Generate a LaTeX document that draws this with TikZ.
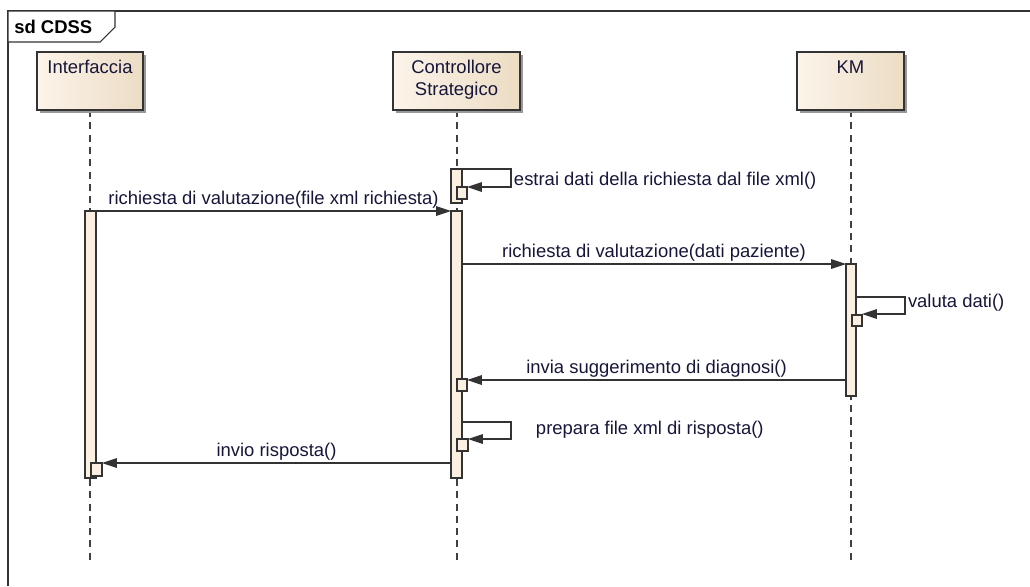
\documentclass[tikz,border=0pt]{standalone}
\usepackage{fontspec}
\setmainfont{Liberation Sans}
\usetikzlibrary{arrows.meta,shadows}

\begin{document}
\begin{tikzpicture}[x=0.02cm, y=-0.02cm, >={Triangle[length=8.5pt,width=5.5pt]},
    font=\fontsize{10.5}{12}\selectfont]
  \definecolor{ink}{HTML}{16163A}
  \definecolor{beigeL}{HTML}{FCF4EA}
  \definecolor{beigeR}{HTML}{ECDCC4}
  \definecolor{actfill}{HTML}{FBEFE1}
  \tikzset{
    head/.style={draw=black!80, line width=0.6pt, left color=beigeL, right color=beigeR,
      minimum height=1.16cm, inner sep=0pt,
      drop shadow={shadow xshift=1.7pt, shadow yshift=-1.7pt, fill=black!40, opacity=1}},
    headtext/.style={anchor=north, align=center, text=ink, inner sep=0pt},
    life/.style={draw=black!75, line width=0.6pt, dash pattern=on 4pt off 3pt},
    act/.style={draw=black!80, line width=0.6pt, fill=actfill},
    msg/.style={->, draw=black!80, line width=0.6pt},
    msgtext/.style={text=ink, inner sep=1.5pt}
  }
  \useasboundingbox (0,0) rectangle (1030,586);

  % frame (runs past the right and bottom edges)
  \draw[black!80, line width=0.6pt] (8,586) -- (8,11) -- (1030,11);
  \draw[black!80, line width=0.6pt, fill=white] (8,11) -- (115,11) -- (115,27) -- (100,42) -- (8,42) -- cycle;
  \node[anchor=west, font=\fontsize{10.5}{12}\selectfont\bfseries, inner sep=0pt] (frameLbl) at (14,27) {sd CDSS};

  % lifelines
  \draw[life] (90,110) -- (90,564);
  \draw[life] (457,110) -- (457,564);
  \draw[life] (851,110) -- (851,564);

  \node[head, minimum width=2.12cm] (ifHead) at (90,81) {};
  \node[headtext] (ifText) at ([yshift=-5pt]ifHead.north) {Interfaccia};
  \node[head, minimum width=2.54cm] (csHead) at (456.5,81) {};
  \node[headtext] (csText) at ([yshift=-5pt]csHead.north) {Controllore\\Strategico};
  \node[head, minimum width=2.14cm] (kmHead) at (850.5,81) {};
  \node[headtext] (kmText) at ([yshift=-5pt]kmHead.north) {KM};

  % activations
  \draw[act] (85,211) rectangle (96,478);
  \draw[act] (451,169) rectangle (462,203);
  \draw[act] (451,211) rectangle (462,478);
  \draw[act] (846,264) rectangle (856,396);
  \draw[act] (457,187) rectangle (467,199);
  \draw[act] (852,315) rectangle (862,326);
  \draw[act] (457,379) rectangle (467,391);
  \draw[act] (457,439) rectangle (468,451);
  \draw[act] (91,463) rectangle (102,476);

  % self calls
  \draw[msg] (462,169) -- (511,169) -- (511,187) -- (467,187);
  \node[msgtext, anchor=west] (m0) at (511,181) {estrai dati della richiesta dal file xml()};
  \draw[msg] (856,297) -- (905,297) -- (905,314) -- (862,314);
  \node[msgtext, anchor=west] (m3) at (905,303) {valuta dati()};
  \draw[msg] (462,422) -- (511,422) -- (511,439) -- (468,439);
  \node[msgtext, anchor=west] (m5) at (533,430) {prepara file xml di risposta()};

  % messages
  \draw[msg] (96,211) -- (451,211) node[msgtext, midway, above] (m1) {richiesta di valutazione(file xml richiesta)};
  \draw[msg] (462,264) -- (846,264) node[msgtext, midway, above] (m2) {richiesta di valutazione(dati paziente)};
  \draw[msg] (846,380) -- (467,380) node[msgtext, midway, above] (m4) {invia suggerimento di diagnosi()};
  \draw[msg] (451,463) -- (102,463) node[msgtext, midway, above] (m6) {invio risposta()};
\end{tikzpicture}
\end{document}
